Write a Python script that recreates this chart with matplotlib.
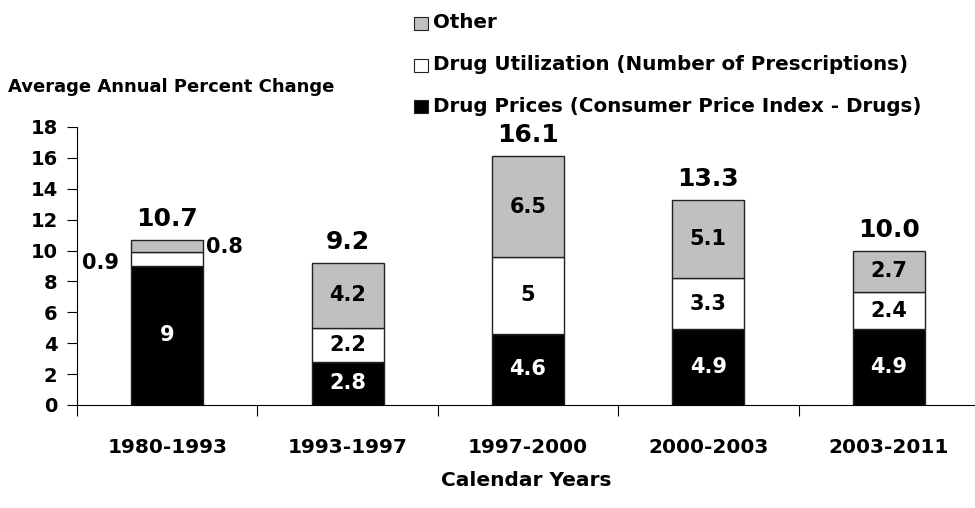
import numpy as np
import matplotlib.pyplot as plt
from matplotlib.patches import Rectangle

# Data
periods = ['1980-1993', '1993-1997', '1997-2000', '2000-2003', '2003-2011']
prices = [9, 2.8, 4.6, 4.9, 4.9]
utilization = [0.9, 2.2, 5, 3.3, 2.4]
other = [0.8, 4.2, 6.5, 5.1, 2.7]
totals = ['10.7', '9.2', '16.1', '13.3', '10.0']
legend_labels = ['Other', 'Drug Utilization (Number of Prescriptions)',
                 'Drug Prices (Consumer Price Index - Drugs)']
legend_colors = ['#c0c0c0', 'white', 'black']

plt.rcParams['font.family'] = 'DejaVu Sans'
plt.rcParams['font.weight'] = 'bold'

fig = plt.figure(figsize=(9.75, 5.08), dpi=100)
ax = fig.add_axes([0.079, 0.203, 0.925, 0.547])

x = np.arange(len(periods))
w = 0.4
prices = np.array(prices)
utilization = np.array(utilization)
other = np.array(other)

ax.bar(x, prices, w, color='black', edgecolor='#222222', linewidth=1.0)
ax.bar(x, utilization, w, bottom=prices, color='white', edgecolor='#222222', linewidth=1.0)
ax.bar(x, other, w, bottom=prices + utilization, color='#c0c0c0', edgecolor='#222222', linewidth=1.0)

ax.set_xlim(-0.5, len(periods) - 0.5)
ax.set_ylim(0, 18)
ax.set_yticks(range(0, 19, 2))
ax.tick_params(axis='y', direction='out', length=7, labelsize=14, pad=7)
ax.set_xticks(np.arange(-0.5, len(periods), 1.0))
ax.set_xticklabels([])
ax.tick_params(axis='x', direction='out', length=8)
for lab in ax.get_yticklabels():
    lab.set_fontweight('bold')
for i, p in enumerate(periods):
    ax.text(i, -2.75, p, ha='center', va='center', fontsize=14.5, fontweight='bold')

ax.spines['top'].set_visible(False)
ax.spines['right'].set_visible(False)

# Segment labels
for i in range(len(periods)):
    top = prices[i] + utilization[i] + other[i]
    ax.text(i, top + 1.35, totals[i], ha='center', va='center', fontsize=18, fontweight='bold')
    ax.text(i, prices[i] / 2, f'{prices[i]:g}', ha='center', va='center',
            fontsize=15, fontweight='bold', color='white')
    if i == 0:
        # thin segments of the first bar are labelled beside it
        ax.text(i - 0.37, prices[i] + utilization[i] / 2 - 0.25, f'{utilization[i]:g}',
                ha='center', va='center', fontsize=15, fontweight='bold')
        ax.text(i + 0.32, top - 0.5, f'{other[i]:g}', ha='center', va='center',
                fontsize=15, fontweight='bold')
    else:
        ax.text(i, prices[i] + utilization[i] / 2, f'{utilization[i]:g}', ha='center',
                va='center', fontsize=15, fontweight='bold')
        ax.text(i, prices[i] + utilization[i] + other[i] / 2, f'{other[i]:g}', ha='center',
                va='center', fontsize=15, fontweight='bold')

fig.text(0.008, 0.829, 'Average Annual Percent Change', ha='left', va='center',
         fontsize=13, fontweight='bold')
fig.text(0.54, 0.055, 'Calendar Years', ha='center', va='center',
         fontsize=14.5, fontweight='bold')

# Legend drawn by hand so the spacing matches
for k, (lab, col) in enumerate(zip(legend_labels, legend_colors)):
    yc = 1 - (23 + 42 * k) / 508
    fig.patches.append(Rectangle((414 / 975, yc - 6.5 / 508), 14 / 975, 13 / 508,
                                 transform=fig.transFigure, facecolor=col,
                                 edgecolor='#222222', linewidth=0.8))
    fig.text(433 / 975, yc, lab, ha='left', va='center', fontsize=14.3, fontweight='bold')

fig.savefig('out.png', dpi=100)
